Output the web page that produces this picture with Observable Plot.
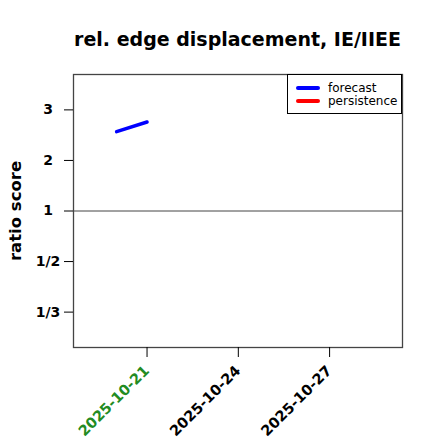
<!DOCTYPE html>
<html>
<head>
<meta charset="utf-8">
<script src="https://cdn.jsdelivr.net/npm/d3@7"></script>
<script src="https://cdn.jsdelivr.net/npm/@observablehq/plot@0.6"></script>
<style>
  body { margin: 0; background: #fff; font-family: "DejaVu Sans", sans-serif; }
  #wrap { position: relative; width: 440px; height: 440px; }
  #title { box-sizing: border-box; width: 440px; height: 54px; padding: 30px 0 6px 35px; line-height: 18px;
           font-size: 19px; font-weight: bold; text-align: center; color: #000; white-space: nowrap; }
  #legend { position: absolute; left: 287px; top: 74px; width: 115px; height: 40px; box-sizing: border-box;
            border: 1px solid #000; background: #fff; font-size: 12px; line-height: 12px; }
  .item { position: absolute; left: 8px; height: 12px; display: flex; align-items: center; }
  .item span { line-height: 12px; display: inline-block; height: 12px; }
  .sw { width: 24px; height: 4px; border-radius: 2px; margin-right: 8px; }
</style>
</head>
<body>
<div id="wrap">
  <div id="title">rel. edge displacement, IE/IIEE</div>
  <div id="chart"></div>
  <div id="legend"></div>
</div>
<script>
const seriesNames = ["forecast", "persistence"];
const seriesColors = ["#0000ff", "#ff0000"];
const forecastDates = ["2025-10-20", "2025-10-21"];
const forecastValues = [2.57, 2.76];
const persistenceDates = [];
const persistenceValues = [];
const yTickValues = [3, 2, 1, 1/2, 1/3];
const yTickLabels = ["3", "2", "1", "1/2", "1/3"];
const xTickDates = ["2025-10-21", "2025-10-24", "2025-10-27"];
const xTickColors = ["#228B22", "#000000", "#000000"];
const xDomain = ["2025-10-18T14:00", "2025-10-29T09:30"];
const yDomain = [1/3.7, 3.7];

const tr = v => v >= 1 ? v - 1 : 1 - 1 / v;
const parse = s => new Date(s + (s.length === 10 ? "T00:00Z" : "Z"));

const forecast = forecastDates.map((d, i) => ({date: parse(d), v: tr(forecastValues[i])}));
const persistence = persistenceDates.map((d, i) => ({date: parse(d), v: tr(persistenceValues[i])}));
const xTicks = xTickDates.map((d, i) => ({date: parse(d), label: d, color: xTickColors[i]}));
const yTicksT = yTickValues.map(tr);
const yLabelOf = new Map(yTicksT.map((t, i) => [t, yTickLabels[i]]));

const chart = Plot.plot({
  width: 440,
  height: 386,
  marginTop: 20,
  marginBottom: 93,
  marginLeft: 73,
  marginRight: 38,
  style: {fontFamily: "DejaVu Sans", background: "#fff", color: "#000"},
  x: {type: "utc", domain: xDomain.map(parse)},
  y: {type: "linear", domain: yDomain.map(tr)},
  color: {type: "identity"},
  marks: [
    Plot.ruleY([0], {stroke: "#444", strokeWidth: 1}),
    Plot.frame({stroke: "#444", strokeWidth: 1.3}),
    Plot.axisY({ticks: yTicksT, tickFormat: t => yLabelOf.get(t), tickSize: 9, tickPadding: 16.5,
                textAnchor: "middle", fontSize: 14, fontWeight: "bold", label: null, stroke: "#000"}),
    Plot.axisY({ticks: [], label: "ratio score", labelAnchor: "center", labelArrow: "none",
                labelOffset: 64, fontSize: 16.5, fontWeight: "bold"}),
    Plot.axisX({ticks: xTicks.map(d => d.date), tickSize: 10, tickFormat: () => "", label: null}),
    Plot.text(xTicks, {x: "date", text: "label", fill: "color", frameAnchor: "bottom", rotate: -45,
                       textAnchor: "end", dy: 24, dx: 3, fontSize: 14.5, fontWeight: "bold"}),
    Plot.line(persistence, {x: "date", y: "v", stroke: seriesColors[1], strokeWidth: 3.5, strokeLinecap: "round"}),
    Plot.line(forecast, {x: "date", y: "v", stroke: seriesColors[0], strokeWidth: 3.5, strokeLinecap: "round"})
  ]
});
document.getElementById("chart").append(chart);

const legend = document.getElementById("legend");
seriesNames.forEach((name, i) => {
  const item = document.createElement("div");
  item.className = "item";
  item.style.top = (7 + i * 13) + "px";
  const sw = document.createElement("div");
  sw.className = "sw";
  sw.style.background = seriesColors[i];
  const label = document.createElement("span");
  label.textContent = name;
  item.append(sw, label);
  legend.append(item);
});
</script>
</body>
</html>
